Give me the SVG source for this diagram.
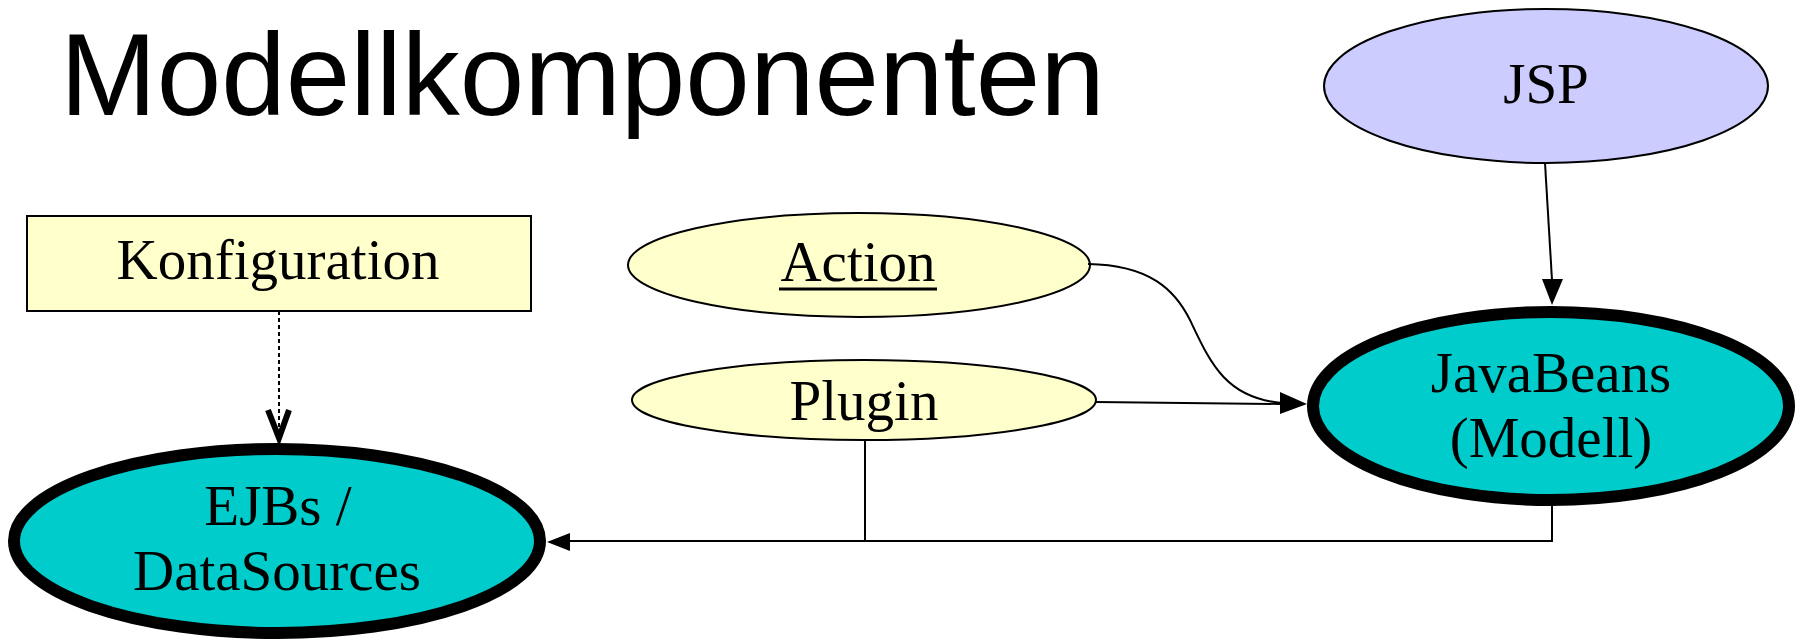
<svg xmlns="http://www.w3.org/2000/svg" width="1806" height="641" viewBox="0 0 1806 641">
<style>
.lbl{font-family:"Liberation Serif","Times New Roman",serif;font-size:57px;fill:#000;text-anchor:middle}
.thin{stroke:#000;stroke-width:2}
.thick{stroke:#000;stroke-width:12}
.edge{fill:none;stroke:#000;stroke-width:2}
</style>
<rect width="1806" height="641" fill="#fff"/>
<text id="title" x="60" y="115" font-family="'Liberation Sans',Arial,sans-serif" font-size="116" fill="#000">Modellkomponenten</text>
<g id="jsp">
<ellipse cx="1546" cy="86" rx="222" ry="77" fill="#ccccff" class="thin"/>
<text class="lbl" x="1546" y="103">JSP</text>
</g>
<g id="konfiguration">
<rect x="27" y="216" width="504" height="95" fill="#ffffcc" class="thin"/>
<text class="lbl" x="278" y="279" font-size="56">Konfiguration</text>
</g>
<g id="action">
<ellipse cx="859" cy="265" rx="231" ry="52" fill="#ffffcc" class="thin"/>
<text class="lbl" x="858" y="281">Action</text>
<line x1="779" y1="289" x2="937" y2="289" stroke="#000" stroke-width="3"/>
</g>
<g id="plugin">
<ellipse cx="864" cy="400" rx="232" ry="40" fill="#ffffcc" class="thin"/>
<text class="lbl" x="864" y="420">Plugin</text>
</g>
<g id="javabeans">
<ellipse cx="1551" cy="406" rx="238" ry="94" fill="#00cccc" class="thick"/>
<text class="lbl" x="1551" y="392">JavaBeans</text>
<text class="lbl" x="1551" y="457">(Modell)</text>
</g>
<g id="ejbs">
<ellipse cx="277" cy="541" rx="263" ry="92" fill="#00cccc" class="thick"/>
<text class="lbl" x="278" y="525">EJBs /</text>
<text class="lbl" x="277" y="590">DataSources</text>
</g>
<g id="connectors">
<path class="edge" d="M1545,163 L1552,280"/>
<polygon points="1542,279 1563,279 1552,305" fill="#000"/>
<path class="edge" d="M279,311 L279,436" stroke-dasharray="4,3"/>
<path d="M268,410 L279,438 L289,410" fill="none" stroke="#000" stroke-width="6"/>
<path class="edge" d="M1088,264 C1150,265 1175,290 1190,320 C1210,362 1225,398 1282,403"/>
<path class="edge" d="M1096,402 L1282,404"/>
<polygon points="1280,392 1280,414 1307,404" fill="#000"/>
<path class="edge" d="M1552,506 L1552,541 L568,541"/>
<path class="edge" d="M865,441 L865,541"/>
<polygon points="547,542 570,533 570,551" fill="#000"/>
</g>
</svg>
